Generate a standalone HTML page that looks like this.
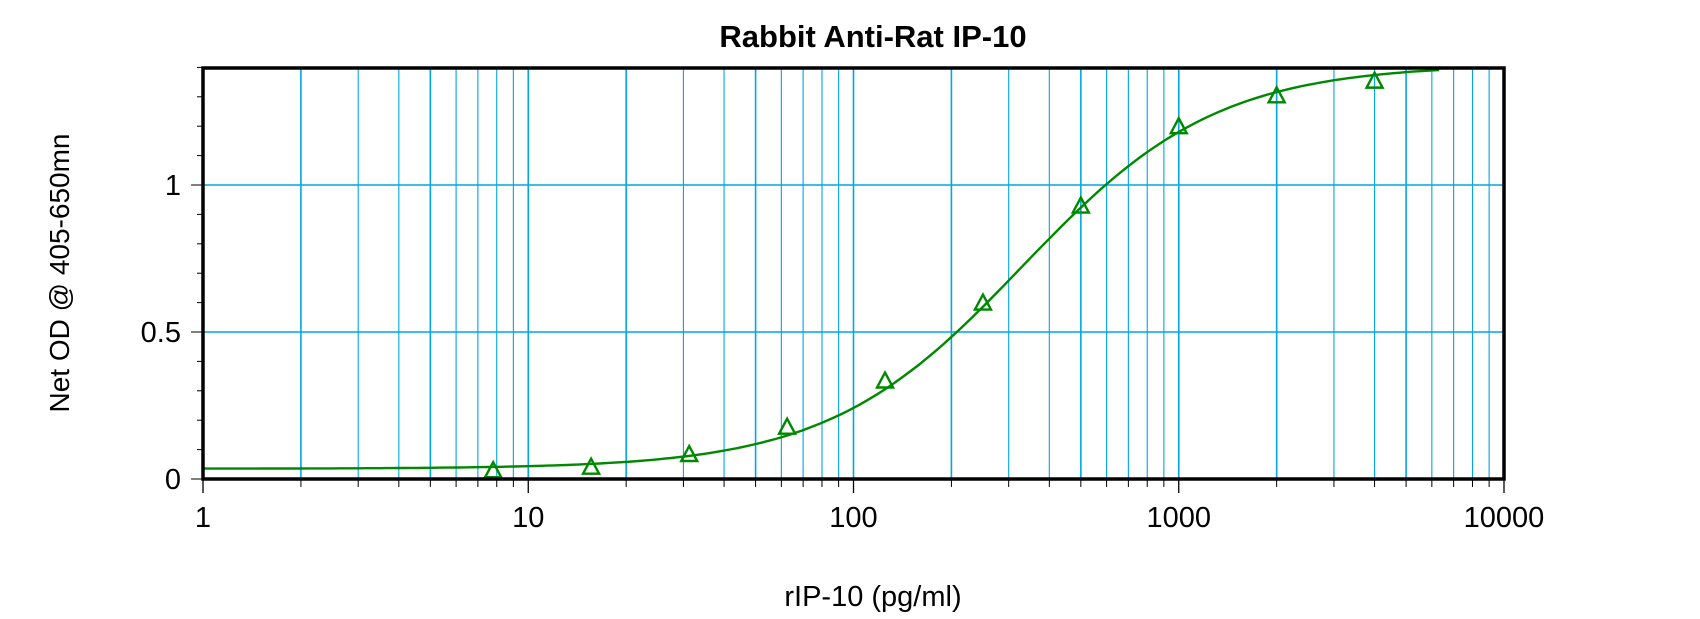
<!DOCTYPE html>
<html><head><meta charset="utf-8"><style>
html,body{margin:0;padding:0;background:#fff;}
svg{display:block;font-family:"Liberation Sans",sans-serif;}
</style></head><body>
<svg id="s" width="1700" height="619" viewBox="0 0 1700 619" xmlns="http://www.w3.org/2000/svg">
<text x="873" y="47" font-size="31" font-weight="bold" text-anchor="middle">Rabbit Anti-Rat IP-10</text>
<text x="873" y="606" font-size="29" text-anchor="middle">rIP-10 (pg/ml)</text>
<text transform="translate(69,273) rotate(-90)" font-size="28" text-anchor="middle">Net OD @ 405-650mn</text>
<g id="g"></g>
</svg>
<script>
var L=203,R=1504,T=68,B=479,dec=325.25;
function X(v){return L+Math.log10(v)*dec;}
function Y(v){return B-v*294;}
var s='';
for(var d=0;d<4;d++)for(var m=2;m<=9;m++){var x=X(m*Math.pow(10,d));
s+='<line x1="'+x+'" y1="'+T+'" x2="'+x+'" y2="'+B+'" stroke="#00a6e6" stroke-width="'+(m==2||m==5?1.6:1.1)+'"/>';
s+='<line x1="'+x+'" y1="'+B+'" x2="'+x+'" y2="'+(B+8)+'" stroke="#000" stroke-width="1"/>';}
for(var d=1;d<4;d++){var x=X(Math.pow(10,d));s+='<line x1="'+x+'" y1="'+T+'" x2="'+x+'" y2="'+B+'" stroke="#00a6e6" stroke-width="1.6"/>';}
[0.5,1].forEach(function(v){s+='<line x1="'+L+'" y1="'+Y(v)+'" x2="'+R+'" y2="'+Y(v)+'" stroke="#00a6e6" stroke-width="1.6"/>';});
for(var i=0;i<=14;i++){var y=Y(i/10),w=(i%5==0)?12:6;s+='<line x1="'+(L-w)+'" y1="'+y+'" x2="'+L+'" y2="'+y+'" stroke="#000" stroke-width="1"/>';}
for(var d=0;d<=4;d++){var x=X(Math.pow(10,d));s+='<line x1="'+x+'" y1="'+B+'" x2="'+x+'" y2="'+(B+14)+'" stroke="#000" stroke-width="1.3"/>';
s+='<text x="'+x+'" y="527" font-size="29" text-anchor="middle">'+Math.pow(10,d)+'</text>';}
[[0,'0'],[0.5,'0.5'],[1,'1']].forEach(function(a){s+='<text x="'+(L-22)+'" y="'+(Y(a[0])+10)+'" font-size="29" text-anchor="end">'+a[1]+'</text>';});
var p='';for(var lx=0;lx<=3.806;lx+=0.02){var c=Math.pow(10,lx);var y=1.41+(0.035-1.41)/(1+Math.pow(c/330,1.45));p+=(p?'L':'M')+X(c).toFixed(1)+' '+Y(y).toFixed(1);}
s+='<path d="'+p+'" fill="none" stroke="#008800" stroke-width="2.4"/>';
[[7.8,0.03],[15.6,0.042],[31.25,0.085],[62.5,0.178],[125,0.335],[250,0.6],[500,0.93],[1000,1.2],[2000,1.305],[4000,1.355]].forEach(function(a){var x=X(a[0]),y=Y(a[1]);
s+='<polygon points="'+x+','+(y-8)+' '+(x-8)+','+(y+7)+' '+(x+8)+','+(y+7)+'" fill="none" stroke="#008800" stroke-width="2.4"/>';});
s+='<rect x="'+L+'" y="'+T+'" width="'+(R-L)+'" height="'+(B-T)+'" fill="none" stroke="#000" stroke-width="3.5"/>';
document.getElementById('g').innerHTML=s;
</script>
</body></html>
